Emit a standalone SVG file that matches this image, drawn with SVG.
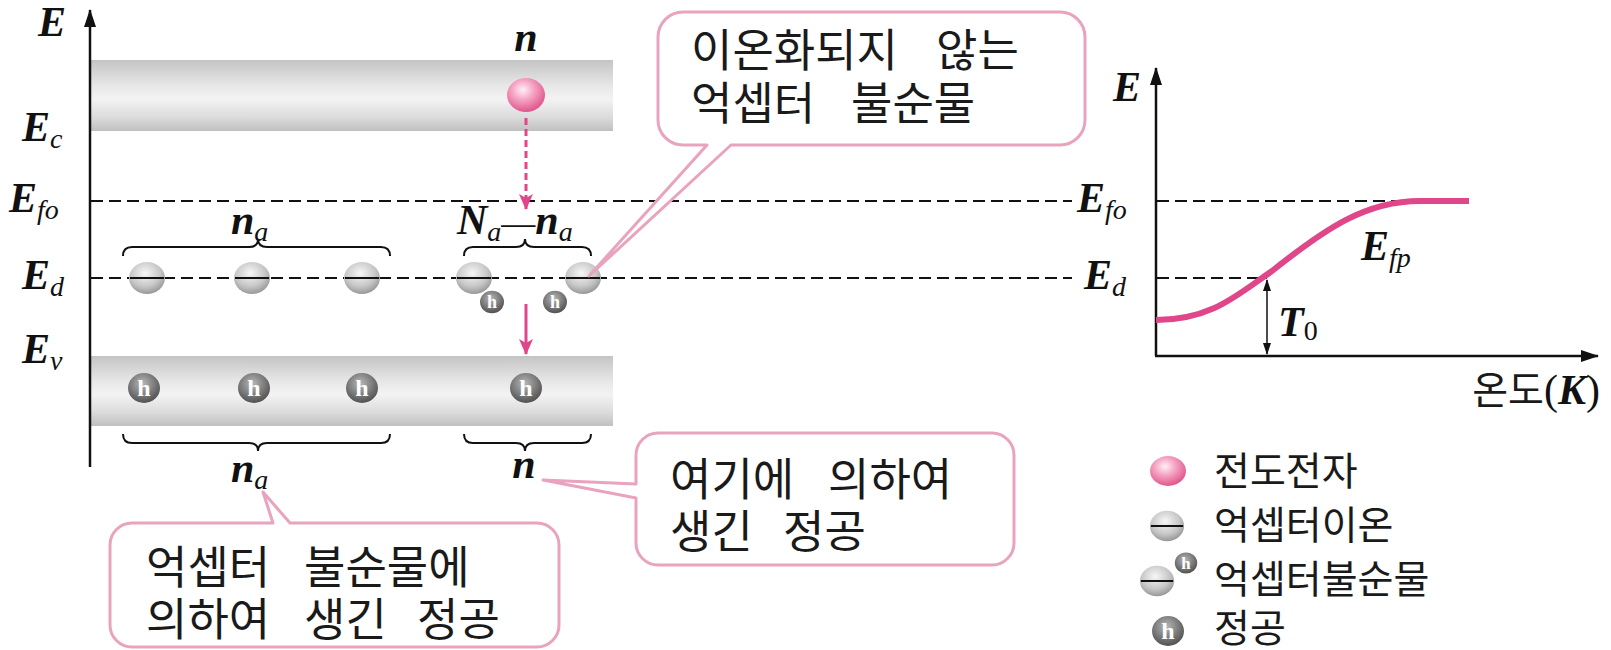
<svg xmlns="http://www.w3.org/2000/svg" width="1611" height="650" viewBox="0 0 1611 650">
<defs>
  <style>
    .m { font-family: "Liberation Serif", "DejaVu Serif", serif; font-style: italic; font-weight: bold; font-size: 42px; fill: #111; }
    .s { font-size: 28px; font-weight: normal; }
    .r { font-style: normal; font-weight: normal; }
    .k { font-family: "Noto Sans CJK KR", sans-serif; font-size: 45px; fill: #1a1a1a; }
    .lg { font-family: "Noto Sans CJK KR", sans-serif; font-size: 39px; fill: #1a1a1a; }
    .dash { stroke: #111; stroke-width: 2; stroke-dasharray: 12 6; fill: none; }
    .axis { stroke: #111; stroke-width: 2.5; fill: none; }
    .brace { stroke: #111; stroke-width: 2; fill: none; }
    .callout { fill: #fff; stroke: #e9a3be; stroke-width: 3; stroke-linejoin: round; }
    .pinkline { stroke: #e0468a; stroke-width: 3; fill: none; }
    .minus { stroke: #111; stroke-width: 2; }
    .hl { font-family: "Liberation Serif", serif; font-weight: bold; fill: #fff; text-anchor: middle; }
  </style>
  <linearGradient id="band" x1="0" y1="0" x2="0" y2="1">
    <stop offset="0" stop-color="#c4c4c4"/>
    <stop offset="0.35" stop-color="#e6e6e6"/>
    <stop offset="0.55" stop-color="#f3f3f3"/>
    <stop offset="0.8" stop-color="#dcdcdc"/>
    <stop offset="1" stop-color="#c0c0c0"/>
  </linearGradient>
  <radialGradient id="pinkBall" cx="0.42" cy="0.35" r="0.65">
    <stop offset="0" stop-color="#fff0f5"/>
    <stop offset="0.45" stop-color="#f5a3c3"/>
    <stop offset="1" stop-color="#e0568c"/>
  </radialGradient>
  <radialGradient id="graySphere" cx="0.45" cy="0.35" r="0.7">
    <stop offset="0" stop-color="#f7f7f7"/>
    <stop offset="0.6" stop-color="#c6c6c6"/>
    <stop offset="1" stop-color="#8e8e8e"/>
  </radialGradient>
  <radialGradient id="holeGrad" cx="0.45" cy="0.35" r="0.7">
    <stop offset="0" stop-color="#b8b8b8"/>
    <stop offset="0.7" stop-color="#6a6a6a"/>
    <stop offset="1" stop-color="#4a4a4a"/>
  </radialGradient>
  <marker id="arrowBlack" viewBox="0 0 18 12" refX="17" refY="6" markerWidth="18" markerHeight="12" markerUnits="userSpaceOnUse" orient="auto">
    <path d="M0,0 L18,6 L0,12 Z" fill="#111"/>
  </marker>
  <marker id="arrowSmall" viewBox="0 0 12 8" refX="11" refY="4" markerWidth="12" markerHeight="8" markerUnits="userSpaceOnUse" orient="auto-start-reverse">
    <path d="M0,0 L12,4 L0,8 Z" fill="#111"/>
  </marker>
  <marker id="arrowPink" viewBox="0 0 16 14" refX="15" refY="7" markerWidth="16" markerHeight="14" markerUnits="userSpaceOnUse" orient="auto">
    <path d="M0,0 L16,7 L0,14 L4,7 Z" fill="#e0468a"/>
  </marker>
  <g id="hole">
    <ellipse cx="0" cy="0" rx="16" ry="15" fill="url(#holeGrad)"/>
    <text class="hl" x="0" y="8" font-size="24">h</text>
  </g>
  <g id="ion">
    <ellipse cx="0" cy="0" rx="18" ry="16" fill="url(#graySphere)"/>
    <line class="minus" x1="-17" y1="0" x2="17" y2="0"/>
  </g>
</defs>

<rect width="1611" height="650" fill="#fff"/>

<!-- Bands -->
<g id="conduction-band">
  <rect x="91" y="60" width="522" height="71" fill="url(#band)"/>
</g>
<g id="valence-band">
  <rect x="91" y="356" width="522" height="70" fill="url(#band)"/>
</g>

<!-- Connectors / lines -->
<g id="connectors">
  <line class="axis" x1="90" y1="467" x2="90" y2="10" marker-end="url(#arrowBlack)"/>
  <line class="dash" x1="91" y1="201" x2="1072" y2="201"/>
  <line class="dash" x1="91" y1="278" x2="1072" y2="278"/>
  <line class="pinkline" x1="526" y1="118" x2="526" y2="209" stroke-dasharray="7 4" marker-end="url(#arrowPink)"/>
  <line class="pinkline" x1="526" y1="304" x2="526" y2="354" marker-end="url(#arrowPink)"/>
  <!-- right graph -->
  <line class="axis" x1="1156" y1="356" x2="1156" y2="68" marker-end="url(#arrowBlack)"/>
  <line class="axis" x1="1155" y1="356" x2="1598" y2="356" marker-end="url(#arrowBlack)"/>
  <line class="dash" x1="1157" y1="201" x2="1469" y2="201"/>
  <line class="dash" x1="1157" y1="278" x2="1267" y2="278"/>
  <path d="M1156,320 C1212,320 1238,294 1272,271 C1326,228 1366,201 1420,201 L1469,201" stroke="#e0468a" stroke-width="6" fill="none"/>
  <line x1="1267" y1="280" x2="1267" y2="354" stroke="#111" stroke-width="1.5" marker-start="url(#arrowSmall)" marker-end="url(#arrowSmall)"/>
  <!-- braces -->
  <path class="brace" d="M123,256 Q123,247 132,247 L249,247 Q258,247 258,239 Q258,247 267,247 L381,247 Q390,247 390,256"/>
  <path class="brace" d="M464,256 Q464,247 473,247 L516,247 Q525,247 525,239 Q525,247 534,247 L582,247 Q591,247 591,256"/>
  <path class="brace" d="M123,434 Q123,443 132,443 L249,443 Q258,443 258,451 Q258,443 267,443 L381,443 Q390,443 390,434"/>
  <path class="brace" d="M464,434 Q464,443 473,443 L516,443 Q525,443 525,451 Q525,443 534,443 L582,443 Q591,443 591,434"/>
</g>

<!-- Particles -->
<g id="electron">
  <ellipse cx="526" cy="95" rx="19" ry="17" fill="url(#pinkBall)"/>
</g>
<g id="acceptor-ions">
  <use href="#ion" x="147" y="278"/>
  <use href="#ion" x="252" y="278"/>
  <use href="#ion" x="362" y="278"/>
  <use href="#ion" x="474" y="278"/>
  <use href="#ion" x="583" y="278"/>
  <g transform="translate(492,302) scale(0.75)"><use href="#hole"/></g>
  <g transform="translate(555,302) scale(0.75)"><use href="#hole"/></g>
</g>
<g id="holes-valence">
  <use href="#hole" x="144" y="388"/>
  <use href="#hole" x="254" y="388"/>
  <use href="#hole" x="362" y="388"/>
  <use href="#hole" x="526" y="388"/>
</g>

<!-- Left labels -->
<g id="left-labels">
  <text class="m" x="38" y="36">E</text>
  <text class="m" x="22" y="141">E<tspan class="s" dy="7">c</tspan></text>
  <text class="m" x="9" y="212">E<tspan class="s" dy="7">fo</tspan></text>
  <text class="m" x="22" y="289">E<tspan class="s" dy="7">d</tspan></text>
  <text class="m" x="22" y="363">E<tspan class="s" dy="7">v</tspan></text>
  <text class="m" x="526" y="51" text-anchor="middle">n</text>
  <text class="m" x="231" y="234">n<tspan class="s" dy="7">a</tspan></text>
  <text class="m" x="457" y="234">N<tspan class="s" dy="7">a</tspan><tspan class="r" dy="-7" font-size="34">—</tspan>n<tspan class="s" dy="7">a</tspan></text>
  <text class="m" x="231" y="482">n<tspan class="s" dy="7">a</tspan></text>
  <text class="m" x="524" y="478" text-anchor="middle">n</text>
</g>

<!-- Right graph labels -->
<g id="right-labels">
  <text class="m" x="1113" y="101">E</text>
  <text class="m" x="1077" y="212">E<tspan class="s" dy="7">fo</tspan></text>
  <text class="m" x="1084" y="289">E<tspan class="s" dy="7">d</tspan></text>
  <text class="m" x="1361" y="260">E<tspan class="s" dy="7">fp</tspan></text>
  <text class="m" x="1278" y="336">T<tspan class="s r" font-size="30" dy="4">0</tspan></text>
  <text x="1600" y="404" text-anchor="end"><tspan class="lg" font-size="42">온도</tspan><tspan class="m r" font-size="40">(</tspan><tspan class="m" font-size="40">K</tspan><tspan class="m r" font-size="40">)</tspan></text>
</g>

<!-- Callouts -->
<g id="callout-nonionized">
  <path class="callout" d="M683,12 H1060 A25,25 0 0 1 1085,37 V120 A25,25 0 0 1 1060,145 H731 L589,276 L707,145 H683 A25,25 0 0 1 658,120 V37 A25,25 0 0 1 683,12 Z"/>
  <text class="k" y="67"><tspan x="691">이온화되지</tspan><tspan x="936">않는</tspan></text>
  <text class="k" y="120"><tspan x="691">억셉터</tspan><tspan x="851">불순물</tspan></text>
</g>
<g id="callout-acceptor-holes">
  <path class="callout" d="M132,523 H273 L263,492 L290,523 H537 A22,22 0 0 1 559,545 V625 A22,22 0 0 1 537,647 H132 A22,22 0 0 1 110,625 V545 A22,22 0 0 1 132,523 Z"/>
  <text class="k" y="584"><tspan x="146">억셉터</tspan><tspan x="304">불순물에</tspan></text>
  <text class="k" y="636"><tspan x="146">의하여</tspan><tspan x="304">생긴</tspan><tspan x="417">정공</tspan></text>
</g>
<g id="callout-here-holes">
  <path class="callout" d="M658,433 H992 A22,22 0 0 1 1014,455 V543 A22,22 0 0 1 992,565 H658 A22,22 0 0 1 636,543 V498 L543,480 L636,484 V455 A22,22 0 0 1 658,433 Z"/>
  <text class="k" y="496"><tspan x="670">여기에</tspan><tspan x="828">의하여</tspan></text>
  <text class="k" y="548"><tspan x="670">생긴</tspan><tspan x="783">정공</tspan></text>
</g>

<!-- Legend -->
<g id="legend-electron">
  <ellipse cx="1168" cy="471" rx="18" ry="15" fill="url(#pinkBall)"/>
  <text class="lg" x="1214" y="485">전도전자</text>
</g>
<g id="legend-ion">
  <g transform="translate(1167,526) scale(0.95)"><use href="#ion"/></g>
  <text class="lg" x="1214" y="539">억셉터이온</text>
</g>
<g id="legend-impurity">
  <g transform="translate(1157,581) scale(0.95)"><use href="#ion"/></g>
  <g transform="translate(1186,563) scale(0.7)"><use href="#hole"/></g>
  <text class="lg" x="1214" y="593">억셉터불순물</text>
</g>
<g id="legend-hole">
  <use href="#hole" x="1168" y="631"/>
  <text class="lg" x="1214" y="642">정공</text>
</g>
</svg>
